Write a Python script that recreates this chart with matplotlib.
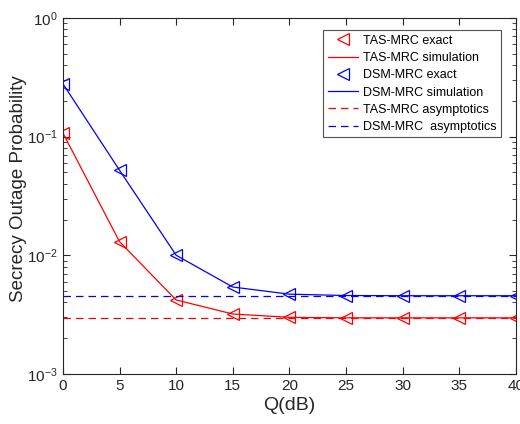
import matplotlib
matplotlib.use("Agg")
import matplotlib.pyplot as plt
import numpy as np

plt.rcParams['font.family'] = ['Liberation Sans', 'DejaVu Sans']
plt.rcParams['mathtext.fontset'] = 'custom'
plt.rcParams['mathtext.rm'] = 'Liberation Sans'

Q = [0, 5, 10, 15, 20, 25, 30, 35, 40]
tas_exact = [0.107, 0.0130, 0.0042, 0.0032, 0.00300, 0.00297, 0.00297, 0.00297, 0.00297]
tas_sim = [0.107, 0.0130, 0.0042, 0.0032, 0.00300, 0.00297, 0.00297, 0.00297, 0.00297]
dsm_exact = [0.278, 0.052, 0.0100, 0.0054, 0.0047, 0.00458, 0.00456, 0.00456, 0.00456]
dsm_sim = [0.278, 0.052, 0.0100, 0.0054, 0.0047, 0.00458, 0.00456, 0.00456, 0.00456]
tas_asym = 0.00297
dsm_asym = 0.00456

fig = plt.figure(figsize=(5.2, 4.24), dpi=100)
ax = fig.add_axes([0.121, 0.118, 0.871, 0.840])

ax.plot(Q, tas_exact, linestyle='none', marker='<', markersize=8, markerfacecolor='none',
        markeredgecolor='red', markeredgewidth=0.9, label='TAS-MRC exact')
ax.plot(Q, tas_sim, color='red', linewidth=0.9, label='TAS-MRC simulation')
ax.plot(Q, dsm_exact, linestyle='none', marker='<', markersize=8, markerfacecolor='none',
        markeredgecolor='blue', markeredgewidth=0.9, label='DSM-MRC exact')
ax.plot(Q, dsm_sim, color='blue', linewidth=0.9, label='DSM-MRC simulation')
ax.plot([Q[0], Q[-1]], [tas_asym, tas_asym], color='red', linestyle=(0, (6, 4)), linewidth=0.9,
        label='TAS-MRC asymptotics')
ax.plot([Q[0], Q[-1]], [dsm_asym, dsm_asym], color='blue', linestyle=(0, (6, 4)), linewidth=0.9,
        label='DSM-MRC  asymptotics')

ax.set_yscale('log')
ax.set_ylim(1e-3, 1)
ax.set_xlim(0, 40)
ax.set_xticks(Q)
ax.tick_params(which='both', direction='in', top=True, right=True, labelsize=11, colors='#262626')
ax.tick_params(which='major', length=5)
ax.tick_params(which='minor', length=3)
for s in ax.spines.values():
    s.set_linewidth(0.8)
    s.set_color('#262626')

ax.set_xlabel('Q(dB)', fontsize=14, color='#262626', labelpad=3)
ax.set_ylabel('Secrecy Outage Probability', fontsize=13.5, color='#262626')
ax.yaxis.set_label_coords(-0.08, 0.52)

leg = ax.legend(loc='upper right', bbox_to_anchor=(0.975, 0.975), fontsize=9, frameon=True,
                fancybox=False, edgecolor='#262626', handlelength=2.4, borderpad=0.35,
                labelspacing=0.42, handletextpad=0.4, borderaxespad=0.3)
leg.get_frame().set_linewidth(0.8)

fig.savefig('out.png', dpi=100)
